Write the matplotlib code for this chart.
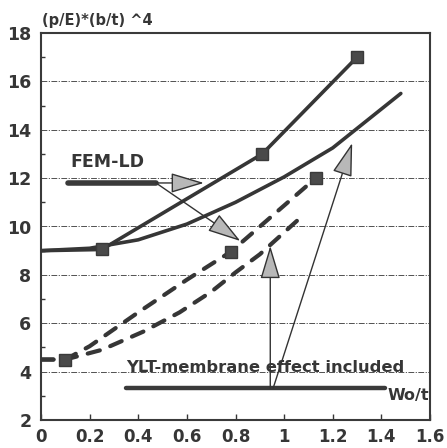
import matplotlib
matplotlib.use("Agg")
import matplotlib.pyplot as plt
from matplotlib.ticker import MultipleLocator

plt.rcParams['font.family'] = ['DejaVu Sans']
plt.rcParams['font.weight'] = 'bold'

# ---- data ----
x_ticks = [0, 0.2, 0.4, 0.6, 0.8, 1.0, 1.2, 1.4, 1.6]
x_tick_labels = ["0", "0.2", "0.4", "0.6", "0.8", "1", "1.2", "1.4", "1.6"]
y_ticks = [2, 4, 6, 8, 10, 12, 14, 16, 18]

# FEM-LD, solid, with square results
fem_solid_x = [0, 0.25, 0.91, 1.30]
fem_solid_y = [9.0, 9.05, 13.0, 17.0]

# YLT, solid
ylt_solid_x = [0, 0.2, 0.4, 0.6, 0.8, 1.0, 1.2, 1.48]
ylt_solid_y = [9.0, 9.1, 9.45, 10.1, 11.0, 12.05, 13.25, 15.5]

# FEM-LD, dashed, with square results
fem_dash_x = [0, 0.1, 0.2, 0.4, 0.6, 0.78, 1.13]
fem_dash_y = [4.5, 4.5, 5.05, 6.45, 7.8, 8.95, 12.0]

# YLT, dashed
ylt_dash_x = [0, 0.1, 0.25, 0.42, 0.57, 0.7, 0.8, 0.9, 1.06]
ylt_dash_y = [4.5, 4.5, 4.9, 5.65, 6.45, 7.3, 8.1, 8.85, 10.3]

INK = '#363636'

fig = plt.figure(figsize=(4.47, 4.48), dpi=100)
ax = fig.add_axes([41 / 447, 1 - 420 / 448, (430 - 41) / 447, (420 - 33) / 448])
ax.set_xlim(0, 1.6)
ax.set_ylim(2, 18)

# horizontal dash-dot grid
for yv in y_ticks[1:-1]:
    ax.axhline(yv, color='#505050', lw=0.7, linestyle=(0, (6, 1.5, 1.2, 1.5)), zorder=1)

# curves
ax.plot(ylt_solid_x, ylt_solid_y, color=INK, lw=2.6, solid_capstyle='round', zorder=3)
ax.plot(fem_solid_x, fem_solid_y, color=INK, lw=2.6, solid_capstyle='round', zorder=3,
        marker='s', markevery=[1, 2, 3], markersize=8.5,
        markerfacecolor='#4a4a4a', markeredgecolor='#3a3a3a')
dash = (0, (3.0, 2.7))
ax.plot(ylt_dash_x, ylt_dash_y, color=INK, lw=3.0, linestyle=dash,
        dash_capstyle='round', zorder=3)
ax.plot(fem_dash_x, fem_dash_y, color=INK, lw=3.0, linestyle=dash,
        dash_capstyle='round', zorder=3)
ax.plot([fem_dash_x[i] for i in (1, 5, 6)], [fem_dash_y[i] for i in (1, 5, 6)],
        linestyle='none', marker='s', markersize=8.5,
        markerfacecolor='#4a4a4a', markeredgecolor='#3a3a3a', zorder=4)

# label blocks with leader arrows
ax.text(0.12, 12.65, 'FEM-LD', fontsize=12.5, fontweight='bold', color=INK,
        va='center', ha='left', zorder=5)
ax.plot([0.11, 0.473], [11.8, 11.8], color='#3a3a3a', lw=4, solid_capstyle='round', zorder=4)

ax.text(0.35, 3.98, 'YLT-membrane effect included', fontsize=11.8, fontweight='bold',
        color=INK, va='baseline', ha='left', zorder=5)
ax.plot([0.351, 1.416], [3.32, 3.32], color='#3a3a3a', lw=3.2, solid_capstyle='round', zorder=4)

arrow_style = dict(arrowstyle='-|>,head_length=1.5,head_width=0.45', mutation_scale=14,
                   lw=1.0, edgecolor='#333333', facecolor='#b8b8b8', shrinkA=0, shrinkB=0)
leaders = [
    ((0.473, 11.8), (0.67, 11.8)),
    ((0.473, 11.8), (0.82, 9.4)),
    ((0.943, 3.32), (0.943, 9.2)),
    ((0.955, 3.32), (1.28, 13.45)),
]
for start, tip in leaders:
    ax.annotate('', xy=tip, xytext=start, xycoords='data', textcoords='data',
                arrowprops=arrow_style, zorder=5)

ax.text(1.425, 3.0, 'Wo/t', fontsize=11.5, fontweight='bold', color=INK,
        va='center', ha='left', zorder=5)
fig.text(42 / 447, 1 - 21 / 448, '(p/E)*(b/t) ^4', fontsize=10.5, fontweight='bold',
         color=INK, va='center', ha='left')

# axes and ticks
ax.set_xticks(x_ticks)
ax.set_xticklabels(x_tick_labels)
ax.set_yticks(y_ticks)
ax.yaxis.set_minor_locator(MultipleLocator(1))
ax.tick_params(axis='x', direction='in', length=4, width=1, pad=6,
               labelsize=12, colors=INK)
ax.tick_params(axis='y', which='major', direction='in', length=0, pad=7,
               labelsize=12.5, colors=INK)
ax.tick_params(axis='y', which='minor', direction='in', length=3, width=1, colors=INK)
for lab in ax.get_xticklabels() + ax.get_yticklabels():
    lab.set_fontweight('bold')
for sp in ax.spines.values():
    sp.set_color('#3a3a3a')
    sp.set_linewidth(1.5)

fig.savefig('out.png', dpi=100, facecolor='white')
